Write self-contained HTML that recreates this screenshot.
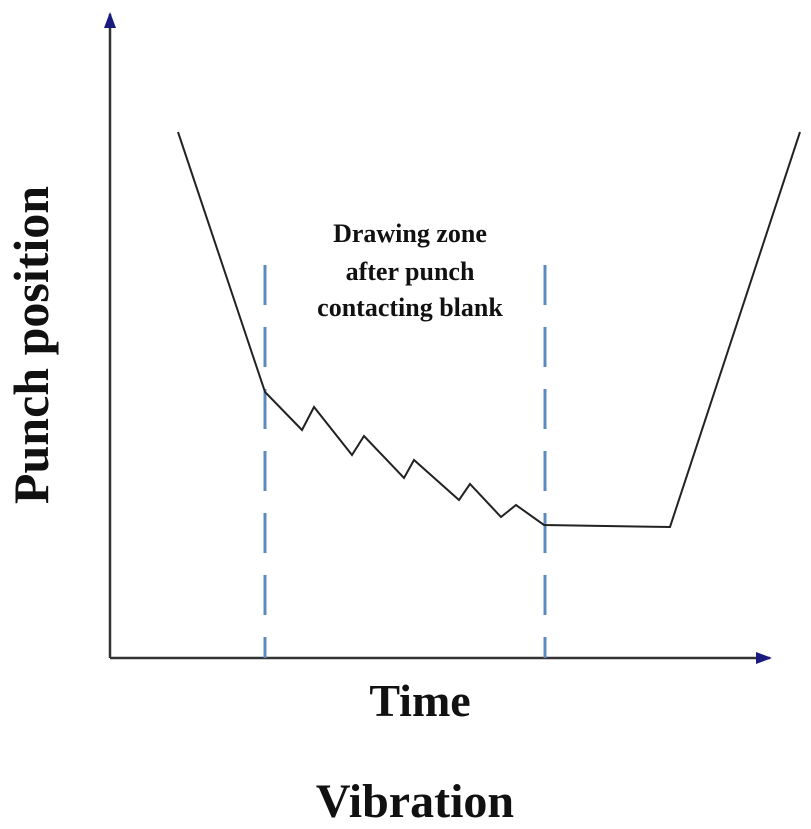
<!DOCTYPE html>
<html><head><style>body{margin:0;background:#fff}</style></head><body>
<svg width="811" height="829" xmlns="http://www.w3.org/2000/svg" style="display:block">
<defs><marker id="a" markerUnits="userSpaceOnUse" markerWidth="16" markerHeight="14" refX="14" refY="7" orient="auto"><path d="M0,1 L16,7 L0,13 z" fill="#1a1a80"/></marker></defs>
<line x1="110" y1="658" x2="110" y2="14" stroke="#333" stroke-width="2.5" marker-end="url(#a)"/>
<line x1="110" y1="658" x2="770" y2="658" stroke="#333" stroke-width="2.5" marker-end="url(#a)"/>
<line x1="265" y1="265" x2="265" y2="658" stroke="#5b8bbd" stroke-width="3" stroke-dasharray="40,22"/>
<line x1="545" y1="265" x2="545" y2="658" stroke="#5b8bbd" stroke-width="3" stroke-dasharray="40,22"/>
<polyline fill="none" stroke="#222" stroke-width="2" points="178,132 265,392 302,430 314,407 352,455 364,436 404,478 414,460 459,500 470,484 501,517 516,505 544,525 670,527 800,132"/>
<g font-family="Liberation Serif, serif" font-weight="bold" text-anchor="middle" fill="#111">
<text x="410" y="242" font-size="26">Drawing zone</text>
<text x="410" y="280" font-size="26">after punch</text>
<text x="410" y="316" font-size="26">contacting blank</text>
<text x="420" y="716" font-size="46">Time</text>
<text x="415" y="817" font-size="48">Vibration</text>
<text transform="translate(48,345) rotate(-90)" font-size="50">Punch position</text>
</g>
</svg>
</body></html>
